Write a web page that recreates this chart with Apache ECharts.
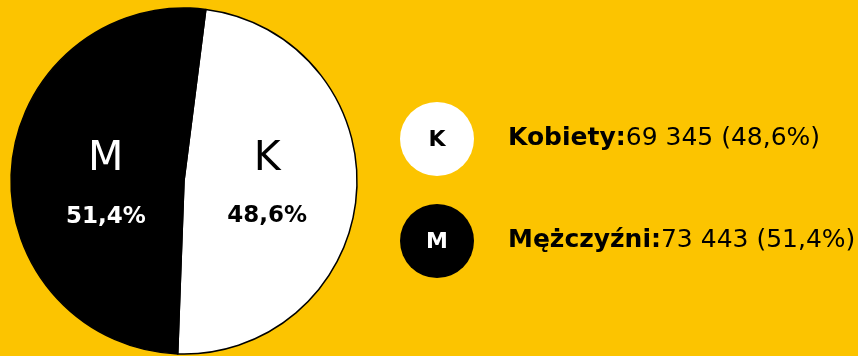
<!DOCTYPE html>
<html>
<head>
<meta charset="utf-8">
<script src="https://cdn.jsdelivr.net/npm/echarts@6/dist/echarts.min.js"></script>
<style>
  html, body { margin: 0; padding: 0; background: #fcc400; }
  #chart { width: 858px; height: 356px; }
</style>
</head>
<body>
<div id="chart"></div>
<script>
// Population split by sex
const categories = ['Kobiety', 'Mężczyźni'];
const shortLabels = ['K', 'M'];
const values = [69345, 73443];
const sliceColors = ['#ffffff', '#000000'];
const labelColors = ['#000000', '#ffffff'];

const total = values.reduce((a, b) => a + b, 0);
const pct = v => (v / total * 100).toFixed(1).replace('.', ',');
const fmtNum = v => String(v).replace(/\B(?=(\d{3})+(?!\d))/g, ' ');

const FONT = '"DejaVu Sans", sans-serif';

// nudges so both slice labels sit on the same line
const labelOffsets = [[-6, -5], [11, 10]];

const chart = echarts.init(document.getElementById('chart'), null, { renderer: 'canvas' });

const pieData = categories.map((name, i) => ({
  name: shortLabels[i],
  value: values[i],
  itemStyle: { color: sliceColors[i] },
  label: {
    color: labelColors[i],
    offset: labelOffsets[i],
    rich: {
      big: { fontFamily: FONT, fontSize: 41, fontWeight: 'normal', color: labelColors[i], lineHeight: 66 },
      pc: { fontFamily: FONT, fontSize: 23, fontWeight: 'bold', color: labelColors[i], lineHeight: 48 }
    }
  }
}));

// Legend rows: a disc with the short letter, then name, count and share
const graphics = [];
categories.forEach((name, i) => {
  const cy = 139 + i * 102;
  graphics.push({
    type: 'circle',
    shape: { cx: 437, cy: cy, r: 37 },
    style: { fill: sliceColors[i] }
  });
  graphics.push({
    type: 'text',
    x: 437, y: cy + 1,
    style: {
      text: shortLabels[i],
      fill: labelColors[i],
      font: 'bold 22px ' + FONT,
      align: 'center',
      verticalAlign: 'middle'
    }
  });
  graphics.push({
    type: 'text',
    x: 508, y: cy - 1,
    style: {
      text: '{b|' + name + ':}{r|' + fmtNum(values[i]) + ' (' + pct(values[i]) + '%)}',
      verticalAlign: 'middle',
      rich: {
        b: { font: 'bold 25px ' + FONT, fill: '#000', color: '#000' },
        r: { font: 'normal 25px ' + FONT, fill: '#000', color: '#000' }
      }
    }
  });
});

chart.setOption({
  backgroundColor: '#fcc400',
  animation: false,
  series: [{
    type: 'pie',
    center: [184, 181],
    radius: [0, 173],
    startAngle: 82.75,
    clockwise: true,
    silent: true,
    itemStyle: { borderColor: '#000', borderWidth: 1.5 },
    label: {
      show: true,
      position: 'inside',
      formatter: p => '{big|' + p.name + '}\n{pc|' + pct(p.value) + '%}'
    },
    labelLine: { show: false },
    data: pieData
  }],
  graphic: graphics
});
</script>
</body>
</html>
